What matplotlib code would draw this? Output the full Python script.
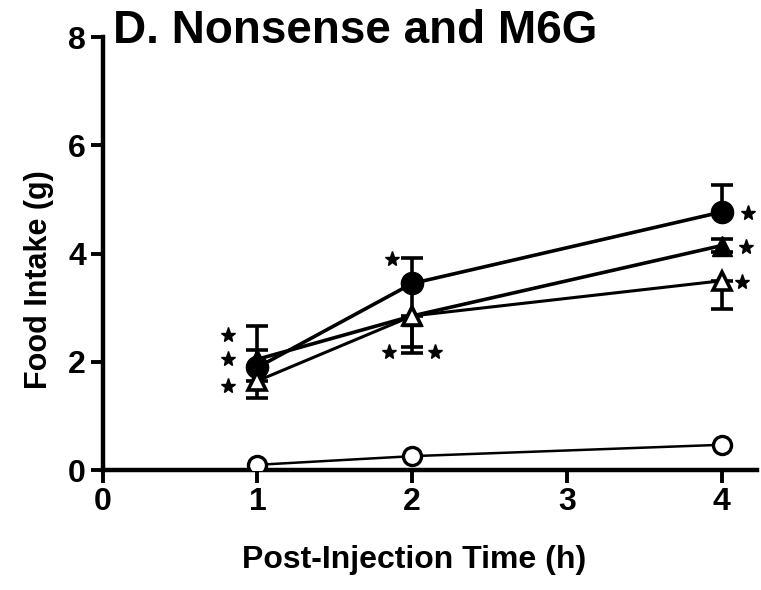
import matplotlib
matplotlib.use("Agg")
import matplotlib.pyplot as plt

plt.rcParams['font.family'] = ['Liberation Sans', 'DejaVu Sans']
plt.rcParams['font.weight'] = 'bold'

times = [1, 2, 4]
m6g_high = [1.9, 3.45, 4.77]        # filled circle
m6g_high_up = [0.77, 0.47, 0.5]
m6g_mid = [2.05, 2.85, 4.15]        # filled triangle
m6g_mid_err = [0.18, 0.58, 0.12]
m6g_low = [1.65, 2.85, 3.5]         # open triangle
m6g_low_down = [0.32, 0.68, 0.53]
nonsense = [0.1, 0.26, 0.47]        # open circle

star_x = [0.81, 0.81, 0.81, 1.87, 1.85, 2.15, 4.17, 4.16, 4.13]
star_y = [2.5, 2.05, 1.55, 3.9, 2.18, 2.18, 4.75, 4.12, 3.47]

xticks = [0, 1, 2, 3, 4]
yticks = [0, 2, 4, 6, 8]

fig = plt.figure(figsize=(7.61, 5.9), dpi=100)
ax = fig.add_axes([0.135, 0.203, 0.86, 0.734])

ax.errorbar(times, m6g_high, yerr=[[0, 0, 0], m6g_high_up], color='black', lw=2.6,
            marker='o', ms=16, mfc='black', mec='black', capsize=8, capthick=2.6, elinewidth=2.6, zorder=5)
ax.errorbar(times, m6g_mid, yerr=m6g_mid_err, color='black', lw=2.6,
            marker='^', ms=14, mfc='black', mec='black', capsize=8, capthick=2.6, elinewidth=2.6, zorder=5)
ax.errorbar(times, m6g_low, yerr=[m6g_low_down, [0, 0, 0]], color='black', lw=2.2,
            marker='^', ms=13, mfc='white', mec='black', mew=2.6, capsize=8, capthick=2.6, elinewidth=2.6, zorder=6)
ax.plot(times, nonsense, color='black', lw=1.8, marker='o', ms=13, mfc='white', mec='black', mew=2.4, zorder=5)

ax.plot(star_x, star_y, linestyle='none', marker='*', ms=11, color='black', zorder=7)

ax.set_xlim(0, 4.23)
ax.set_ylim(0, 8)
ax.set_xticks(xticks)
ax.set_yticks(yticks)
ax.set_xticklabels([str(t) for t in xticks], fontsize=23, fontweight='bold')
ax.set_yticklabels([str(t) for t in yticks], fontsize=23, fontweight='bold')
ax.tick_params(axis='both', direction='out', length=9, width=2.8, pad=3)
for s in ['top', 'right']:
    ax.spines[s].set_visible(False)
for s in ['left', 'bottom']:
    ax.spines[s].set_linewidth(3.2)

ax.set_xlabel('Post-Injection Time (h)', fontsize=23, fontweight='bold')
ax.xaxis.set_label_coords(0.476, -0.172)
ax.set_ylabel('Food Intake (g)', fontsize=22, fontweight='bold')
ax.yaxis.set_label_coords(-0.074, 0.44)

fig.text(0.148, 0.948, 'D. Nonsense and M6G', fontsize=33, fontweight='bold', ha='left', va='center')

fig.savefig('out.png', dpi=100)
